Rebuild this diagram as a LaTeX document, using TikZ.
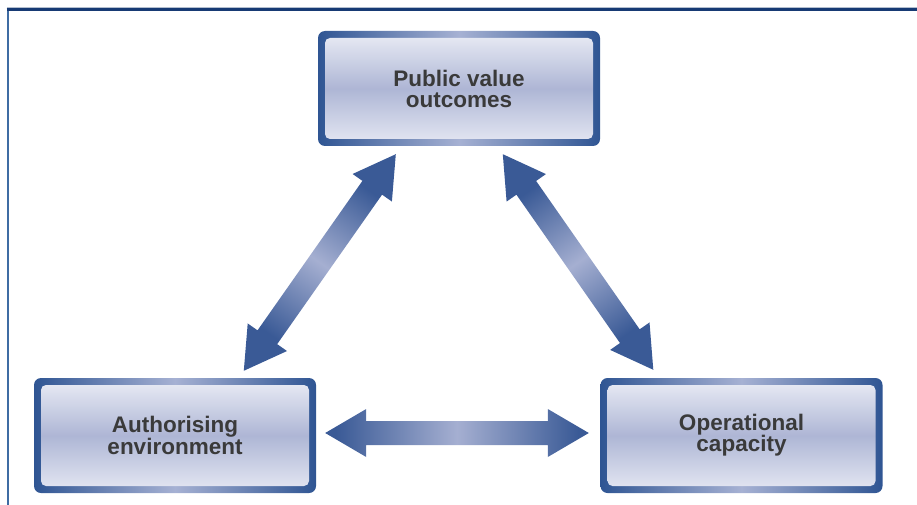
\documentclass[tikz,border=0pt]{standalone}
\usepackage{fontspec}
\setmainfont{Liberation Sans}
\usetikzlibrary{calc}
\definecolor{bdark}{HTML}{2F5593}
\definecolor{blight}{HTML}{A6B1D3}
\definecolor{adark}{HTML}{3A5A96}
\definecolor{alight}{HTML}{A5AFD1}
\definecolor{itop}{HTML}{E4E7F2}
\definecolor{imid}{HTML}{AEB6D5}
\definecolor{ibot}{HTML}{E0E3F0}
\definecolor{txt}{HTML}{3A3A3A}
\definecolor{frameleft}{HTML}{3F6CA3}
\definecolor{frametop}{HTML}{173A74}
\definecolor{framelite}{HTML}{B4BFCF}
\pgfdeclarehorizontalshading{fatshade}{100bp}{color(0bp)=(adark); color(27bp)=(adark); color(50bp)=(alight); color(73bp)=(adark); color(100bp)=(adark)}
\newcommand\fatarr[3]{%
  \path ($(#1)!41pt!(#2)$) coordinate (fa1) ($(#2)!41pt!(#1)$) coordinate (fa2);
  \shade[shading=fatshade, shading angle=#3]
    (#1) -- ($(fa1)!24pt!-90:(#2)$) -- ($(fa1)!12pt!-90:(#2)$)
    -- ($(fa2)!12pt!90:(#1)$) -- ($(fa2)!24pt!90:(#1)$) -- (#2)
    -- ($(fa2)!24pt!-90:(#1)$) -- ($(fa2)!12pt!-90:(#1)$)
    -- ($(fa1)!12pt!90:(#2)$) -- ($(fa1)!24pt!90:(#2)$) -- cycle;}
\begin{document}
\begin{tikzpicture}[x=1pt,y=1pt,
  boxouter/.style={rectangle, rounded corners=7pt, minimum width=282pt, minimum height=115pt, inner sep=0pt, left color=bdark, right color=bdark, middle color=blight},
  boxinner/.style={rectangle, rounded corners=5pt, minimum width=268pt, minimum height=101pt, inner sep=0pt, top color=itop, bottom color=ibot, middle color=imid, align=center, text=txt, font=\bfseries\fontsize{22.5}{21}\selectfont}]
\useasboundingbox (0,0) rectangle (917,504);
% frame
\coordinate (fbl) at (7.5,-2);
\coordinate (ftl) at (7.5,494.5);
\coordinate (ftr) at (917,494.5);
\draw[framelite, line width=1pt] (7,496.5) -- (917,496.5);
\draw[frameleft, line width=2pt] (fbl) -- (ftl);
\draw[frametop, line width=2.2pt] ($(ftl)+(-1,0)$) -- (ftr);
% boxes
\node[boxouter] (pv) at (459,415.5) {};
\node[boxinner] (pvt) at (pv) {Public value\\outcomes};
\node[boxouter] (ae) at (175,68.5) {};
\node[boxinner] (aet) at (ae) {Authorising\\environment};
\node[boxouter] (oc) at (741.5,68.5) {};
\node[boxinner] (oct) at (oc) {Operational\\capacity};
% arrow ends
\coordinate (l1) at ($(ae.north west)+(210,7)$);
\coordinate (l2) at ($(pv.south west)+(78,-8)$);
\coordinate (r1) at ($(pv.south west)+(185,-8)$);
\coordinate (r2) at ($(oc.north west)+(53,8)$);
\coordinate (h1) at ($(ae.east)+(9,2.5)$);
\coordinate (h2) at ($(oc.west)+(-11.5,2.5)$);
\fatarr{l1}{l2}{55}
\fatarr{r1}{r2}{-55}
\fatarr{h1}{h2}{0}
\end{tikzpicture}
\end{document}
